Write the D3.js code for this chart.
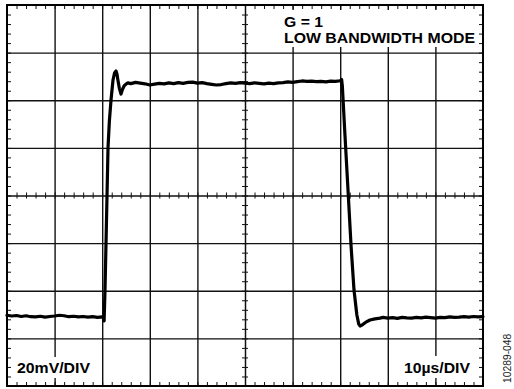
<!DOCTYPE html>
<html>
<head>
<meta charset="utf-8">
<script src="https://cdn.jsdelivr.net/npm/d3@7"></script>
<style>
  html, body { margin: 0; padding: 0; background: #fff; }
  svg { display: block; }
</style>
</head>
<body>
<svg id="chart" width="514" height="389"></svg>
<script>
// ---- Data ----
const xDomain = [0, 100];          // µs, 10 µs/DIV, 10 divisions
const yDomain = [-80, 80];         // mV, 20 mV/DIV, 8 divisions
const xMajor = [10, 20, 30, 40, 60, 70, 80, 90];
const xCenter = 50;
const yMajor = [-60, -40, -20, 20, 40, 60];
const yCenter = 0;
const xMinorStep = 2;
const yMinorStep = 4;

const traceTime = [
  0, 1, 2, 3, 4, 5, 6, 7, 8, 9, 10, 11, 12, 13, 14, 15, 16, 17, 18, 19, 20,
  20.3, 20.4, 20.59, 20.8, 21.01, 21.22, 21.5, 21.85, 22.27, 22.6, 22.9, 23.1, 23.3, 23.6,
  23.95, 24.25, 24.6, 25.0, 25.4,
  26, 27, 28, 29, 30, 31, 32, 33, 34, 35, 36, 37, 38, 39, 40, 41, 42, 43, 44, 45,
  46, 47, 48, 49, 50, 51, 52, 53, 54, 55, 56, 57, 58, 59, 60, 61, 62, 63, 64, 65,
  66, 67, 68, 69, 70,
  70.3, 70.45, 71.0, 71.64, 72.27, 72.9, 73.5, 73.9, 74.16, 74.6, 75.3, 76.26, 77.3, 78.36,
  79, 80, 81, 82, 83, 84, 85, 86, 87, 88, 89, 90, 91, 92, 93, 94, 95, 96, 97, 98, 99, 100
];
const traceMv = [
  -50.3, -50.6, -50.4, -50.8, -50.5, -50.9, -51.0, -50.7, -51.1, -50.8, -50.6, -50.3, -50.5, -50.9, -50.7, -51.0, -50.8, -51.1, -50.9, -51.2, -51.0,
  -51.6, -52.7, -39.7, -20.0, -0.2, 20.0, 31.0, 40.1, 48.5, 51.5, 52.3, 51.0, 48.5, 45.0,
  42.6, 44.5, 46.0, 46.8, 47.3,
  47.0, 47.5, 47.2, 46.9, 46.4, 46.8, 47.1, 46.9, 47.3, 47.0, 47.4, 47.1, 47.5, 47.6, 47.2, 47.4, 47.0, 46.7, 46.4, 46.6,
  47.0, 47.3, 47.1, 47.4, 47.2, 47.0, 47.3, 47.1, 46.9, 47.2, 47.0, 47.3, 47.4, 47.7, 47.5, 47.8, 48.1, 47.9, 48.0, 47.8,
  47.9, 47.7, 48.0, 47.9, 48.2,
  48.7, 46.0, 25.4, 2.3, -20.8, -39.7, -50.2, -54.0, -54.8, -54.4, -53.3, -52.3, -51.8, -51.5,
  -51.2, -51.5, -51.3, -51.6, -51.2, -51.4, -51.5, -51.2, -51.4, -51.1, -51.3, -51.5, -51.2, -51.3, -51.0, -51.2, -51.1, -50.9, -51.1, -50.8, -51.0, -50.9
];

const legendLines = ["G = 1", "LOW BANDWIDTH MODE"];
const voltLabel = "20mV/DIV";
const timeLabel = "10µs/DIV";
const figId = "10289-048";

// ---- Layout ----
const L = 7, R = 483, T = 5, B = 386;
const svg = d3.select("#chart");
const x = d3.scaleLinear().domain(xDomain).range([L, R]);
const y = d3.scaleLinear().domain(yDomain).range([B, T]);

const gridColor = "#111";
const font = "'Liberation Sans', Arial, Helvetica, sans-serif";

const xMinor = d3.range(xDomain[0], xDomain[1] + 0.001, xMinorStep);
const yMinor = d3.range(yDomain[0], yDomain[1] + 0.001, yMinorStep);

function styleAxis(g, w) {
  g.select(".domain").remove();
  g.selectAll(".tick text").remove();
  g.selectAll(".tick line").attr("stroke", gridColor).attr("stroke-width", w);
}

// major vertical grid lines
svg.append("g").attr("transform", `translate(0,${B})`)
  .call(d3.axisBottom(x).tickValues(xMajor).tickSize(-(B - T)).tickFormat(""))
  .call(g => styleAxis(g, 1.4));
// major horizontal grid lines
svg.append("g").attr("transform", `translate(${L},0)`)
  .call(d3.axisLeft(y).tickValues(yMajor).tickSize(-(R - L)).tickFormat(""))
  .call(g => styleAxis(g, 1.4));
// center lines
svg.append("g").attr("transform", `translate(0,${B})`)
  .call(d3.axisBottom(x).tickValues([xCenter]).tickSize(-(B - T)).tickFormat(""))
  .call(g => styleAxis(g, 1.5));
svg.append("g").attr("transform", `translate(${L},0)`)
  .call(d3.axisLeft(y).tickValues([yCenter]).tickSize(-(R - L)).tickFormat(""))
  .call(g => styleAxis(g, 1.5));

// minor ticks on borders (inward)
svg.append("g").attr("transform", `translate(0,${T})`)
  .call(d3.axisTop(x).tickValues(xMinor).tickSize(-4).tickFormat(""))
  .call(g => styleAxis(g, 1));
svg.append("g").attr("transform", `translate(0,${B})`)
  .call(d3.axisBottom(x).tickValues(xMinor).tickSize(-4).tickFormat(""))
  .call(g => styleAxis(g, 1));
svg.append("g").attr("transform", `translate(${L},0)`)
  .call(d3.axisLeft(y).tickValues(yMinor).tickSize(-4).tickFormat(""))
  .call(g => styleAxis(g, 1));
svg.append("g").attr("transform", `translate(${R},0)`)
  .call(d3.axisRight(y).tickValues(yMinor).tickSize(-4).tickFormat(""))
  .call(g => styleAxis(g, 1));

// minor ticks on center lines (crossing)
svg.append("g").attr("transform", `translate(0,${y(yCenter)})`)
  .call(d3.axisBottom(x).tickValues(xMinor).tickSize(3).tickFormat(""))
  .call(g => styleAxis(g, 1))
  .call(g => g.selectAll(".tick line").attr("y1", -3).attr("y2", 3));
svg.append("g").attr("transform", `translate(${x(xCenter)},0)`)
  .call(d3.axisLeft(y).tickValues(yMinor).tickSize(3).tickFormat(""))
  .call(g => styleAxis(g, 1))
  .call(g => g.selectAll(".tick line").attr("x1", -3).attr("x2", 3));

// border
svg.append("rect")
  .attr("x", L).attr("y", T).attr("width", R - L).attr("height", B - T)
  .attr("fill", "none").attr("stroke", "#000").attr("stroke-width", 2);

// trace
const pts = traceTime.map((t, i) => [t, traceMv[i]]);
svg.append("path")
  .datum(pts)
  .attr("fill", "none")
  .attr("stroke", "#000")
  .attr("stroke-width", 3.2)
  .attr("stroke-linejoin", "round")
  .attr("stroke-linecap", "round")
  .attr("d", d3.line().x(d => x(d[0])).y(d => y(d[1])));

// label boxes
function box(x0, y0, w, h) {
  svg.append("rect").attr("x", x0).attr("y", y0).attr("width", w).attr("height", h).attr("fill", "#fff");
}
box(280, 10, 198, 37);
box(12, 357, 84, 21);
box(398, 356, 78, 22);

function label(txt, x0, yb, len, fs) {
  svg.append("text")
    .attr("x", x0).attr("y", yb)
    .attr("font-family", font).attr("font-weight", "bold")
    .attr("font-size", fs)
    .attr("fill", "#000")
    .attr("textLength", len).attr("lengthAdjust", "spacingAndGlyphs")
    .text(txt);
}
label(legendLines[0], 284, 26.6, 39, 14);
label(legendLines[1], 284, 42.5, 191, 14);
label(voltLabel, 17, 373.3, 73, 15);
label(timeLabel, 404, 372.8, 66, 15);

svg.append("text")
  .attr("transform", "translate(511,383) rotate(-90)")
  .attr("font-family", font)
  .attr("font-size", 10.3)
  .attr("fill", "#222")
  .text(figId);
</script>
</body>
</html>
